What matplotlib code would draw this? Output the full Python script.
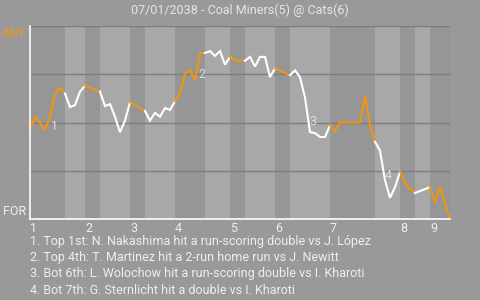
import matplotlib
matplotlib.use("Agg")
import matplotlib.pyplot as plt
import numpy as np

# win probability (%) for the away side after each plate appearance
win_prob = [46, 53, 50, 46, 53, 65, 68, 65,
            58, 59, 66, 69,
            68, 67, 66,
            58.5, 59.5, 53, 45, 51, 60.5,
            59, 57.5, 56,
            51, 55, 53, 57.5, 56.5, 61,
            65, 75.5, 77, 72, 86, 86,
            87, 84.5, 87, 80, 84,
            82, 82, 82,
            84, 79, 84, 84, 73.5, 78,
            77, 75.5, 74.5,
            77, 73.5, 63, 45, 44.5, 42.5, 42.5, 48.5,
            45.5, 50, 50, 50, 50, 50, 64, 48.5, 40,
            35.5, 20, 11, 16.5, 24.5,
            18.5, 15.5, 13.5,
            14.5, 15.5, 16.5,
            8.5, 17, 8, 0]
# plate appearances in each half inning (top 1st, bot 1st, ...)
half_events = [7, 4, 3, 6, 3, 6, 6, 5, 3, 6, 3, 8, 9, 5, 3, 3, 4]
inning_labels = ["1", "2", "3", "4", "5", "6", "7", "8", "9"]

notes = ["1. Top 1st: N. Nakashima hit a run-scoring double vs J. López",
         "2. Top 4th: T. Martinez hit a 2-run home run vs J. Newitt",
         "3. Bot 6th: L. Wolochow hit a run-scoring double vs I. Kharoti",
         "4. Bot 7th: G. Sternlicht hit a double vs I. Kharoti"]
note_events = [4, 33, 56, 71]
note_offsets = [(1, -10), (3, 6), (-1, 11), (0, 5)]

title = "07/01/2038 - Coal Miners(5) @ Cats(6)"
away_abbr = "ANT"
home_abbr = "FOR"

ORANGE = "#f39410"
BG = "#999999"
DARK = "#969696"
LIGHT = "#a8a8a8"
TXT = "#eeeeee"

plt.rcParams["font.family"] = ["Roboto", "DejaVu Sans"]

fig = plt.figure(figsize=(4.8, 3.0), dpi=100, facecolor=BG)
ax = fig.add_axes([30 / 480, 1 - 219 / 300, 420 / 480, 193 / 300])
ax.set_facecolor(BG)

x = np.arange(len(win_prob))
wp = np.array(win_prob)
bounds = np.concatenate([[0], np.cumsum(half_events)])

for k in range(len(half_events)):
    s, e = bounds[k], bounds[k + 1]
    top = (k % 2 == 0)
    ax.axvspan(s, e, color=DARK if top else LIGHT, lw=0, zorder=0)
    ax.plot(x[s:e + 1], wp[s:e + 1], color=ORANGE if top else "white",
            lw=1.5, zorder=3, solid_joinstyle="miter")

for v in [25, 50, 75, 100]:
    ax.axhline(v, color="#7d7d7d", lw=1, zorder=1)

ax.set_xlim(0, bounds[-1])
ax.set_ylim(0, 100)
for side in ["top", "right"]:
    ax.spines[side].set_visible(False)
for side in ["left", "bottom"]:
    ax.spines[side].set_color("white")
    ax.spines[side].set_linewidth(1.2)
    ax.spines[side].set_zorder(4)
ax.set_xticks([])
ax.set_yticks([])

# inning numbers at the start of each top half
for i, lab in enumerate(inning_labels):
    ax.annotate(lab, (bounds[2 * i], 0), xytext=(0, -3), textcoords="offset pixels",
                ha="left", va="top", color=TXT, fontsize=9, annotation_clip=False)

ax.annotate(away_abbr, (0, 100), xytext=(-4, -1), textcoords="offset pixels",
            ha="right", va="top", color=ORANGE, fontsize=9, annotation_clip=False)
ax.annotate(home_abbr, (0, 0), xytext=(-4, 1), textcoords="offset pixels",
            ha="right", va="bottom", color=TXT, fontsize=9, annotation_clip=False)

for n, (i, off) in enumerate(zip(note_events, note_offsets)):
    ax.annotate(str(n + 1), (x[i], wp[i]), xytext=off, textcoords="offset pixels",
                ha="left", va="center", color="#dddddd", fontsize=9, zorder=5)

fig.text(0.5, 1 - 10 / 300, title, ha="center", va="center", color="#e6e6e6", fontsize=9)
for j, line in enumerate(notes):
    fig.text(30 / 480, 1 - (242 + 16 * j) / 300, line, ha="left", va="center",
             color=TXT, fontsize=9)

fig.savefig("out.png", dpi=100, facecolor=BG)
